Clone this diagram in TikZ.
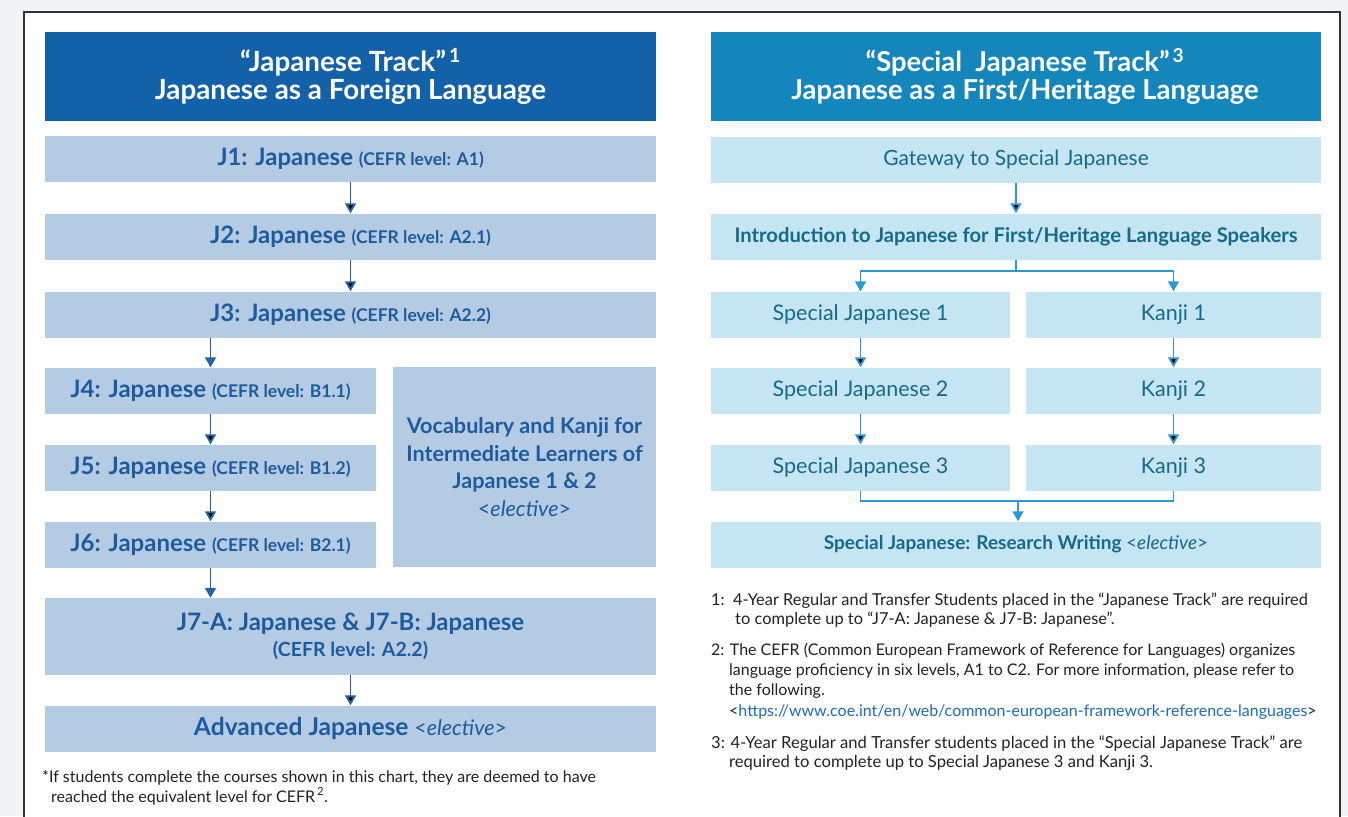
\documentclass[tikz,border=0pt]{standalone}
\usepackage{fontspec}
\setmainfont{Lato}
\usetikzlibrary{arrows.meta}

\definecolor{leftHead}{HTML}{1261A9}
\definecolor{leftBox}{HTML}{B5CBE3}
\definecolor{leftText}{HTML}{1C5C9E}
\definecolor{leftArrow}{HTML}{2462A6}
\definecolor{rightHead}{HTML}{1586BC}
\definecolor{rightBox}{HTML}{C6E5F2}
\definecolor{rightText}{HTML}{156A8B}
\definecolor{rightArrow}{HTML}{2B9AD0}
\definecolor{noteText}{HTML}{222222}
\definecolor{linkBlue}{HTML}{1F6DB8}
\definecolor{pageGray}{HTML}{F2F3F4}

\newcommand{\cefr}[1]{{\fontsize{17.5}{20}\selectfont (CEFR level: #1)}}
\newcommand{\elect}{{\mdseries <\textit{elective}>}}

\begin{document}
\begin{tikzpicture}[x=1pt, y=-1pt, every node/.style={inner sep=0pt}]
            \tikzstyle{headLeft} = [rectangle, fill=leftHead, text=white, minimum width=611pt,
                minimum height=89pt, align=center, font=\fontsize{27.8}{28}\selectfont\bfseries]
            \tikzstyle{headRight} = [headLeft, fill=rightHead, minimum width=610pt,
                font=\fontsize{27.4}{28}\selectfont\bfseries]
            \tikzstyle{boxLeft} = [rectangle, fill=leftBox, text=leftText, minimum width=611pt,
                minimum height=46pt, align=center, font=\fontsize{24}{26}\selectfont\bfseries]
            \tikzstyle{boxHalf} = [boxLeft, minimum width=331pt]
            \tikzstyle{boxRight} = [rectangle, fill=rightBox, text=rightText, minimum width=610pt,
                minimum height=46pt, align=center, font=\fontsize{21}{22}\selectfont]
            \tikzstyle{boxSJ} = [boxRight, minimum width=299pt, font=\fontsize{21.5}{24}\selectfont]
            \tikzstyle{boxKanji} = [boxSJ, minimum width=295pt]
            \tikzstyle{note} = [anchor=north west, align=left, text=noteText,
                font=\fontsize{16.4}{19}\selectfont]
            \tikzstyle{leftEdge} = [draw=leftArrow, line width=1.8pt, -{Triangle[length=10pt,width=11pt]}]
            \tikzstyle{rightEdge} = [draw=rightArrow, line width=1.8pt, -{Triangle[length=10pt,width=11pt]}]
            \tikzstyle{rightLine} = [draw=rightArrow, line width=1.8pt]
            % page and frame
            \useasboundingbox (0,0) rectangle (1348,816);
            \fill[pageGray] (0,0) rectangle (1348,816);
            \draw[fill=white, draw=black!80, line width=1.5pt] (24,12) rectangle (1340,840);
            % left track
            \node[headLeft] (hl) at (350.5,76.5) {“Japanese Track”\textsuperscript{\,1}\\Japanese as a Foreign Language};
            \node[boxLeft] (j1) at (350.5,159) {J1: Japanese \cefr{A1}};
            \node[boxLeft] (j2) at (350.5,236.5) {J2: Japanese \cefr{A2.1}};
            \node[boxLeft] (j3) at (350.5,314.5) {J3: Japanese \cefr{A2.2}};
            \node[boxHalf] (j4) at (210.5,390.5) {J4: Japanese \cefr{B1.1}};
            \node[boxHalf] (j5) at (210.5,467.5) {J5: Japanese \cefr{B1.2}};
            \node[boxHalf] (j6) at (210.5,544.5) {J6: Japanese \cefr{B2.1}};
            \node[boxLeft, minimum width=263pt, minimum height=200pt,
                font=\fontsize{21.6}{27.5}\selectfont\bfseries] (voc) at (524.5,467)
                {Vocabulary and Kanji for\\Intermediate Learners of\\Japanese 1 \& 2\\\elect};
            \node[boxLeft, minimum height=77pt] (j7) at (350.5,636.5)
                {J7-A: Japanese \& J7-B: Japanese\\[0pt]{\fontsize{19.5}{20}\selectfont (CEFR level: A2.2)}};
            \node[boxLeft] (adv) at (350.5,728.5)
                {{\fontsize{24.6}{26}\selectfont Advanced Japanese} {\fontsize{21.5}{22}\selectfont\elect}};
            \node[note, font=\fontsize{16}{20}\selectfont] (star) at (42,770)
                {*If students complete the courses shown in this chart, they are deemed to have\\
                \hspace*{9pt}reached the equivalent level for CEFR\textsuperscript{\,2}.};
            \foreach \from/\to in {j1/j2,j2/j3,j7/adv}
                \path[leftEdge] (\from) edge (\to);
            \path[leftEdge] (j4.north |- j3.south) -- (j4.north);
            \foreach \from/\to in {j4/j5,j5/j6}
                \path[leftEdge] (\from) edge (\to);
            \path[leftEdge] (j6.south) -- (j6.south |- j7.north);
            % right track
            \node[headRight] (hr) at (1016,76.5)
                {\hspace*{18pt}“Special\ \ Japanese Track”\textsuperscript{\,3}\\\hspace*{18pt}Japanese as a First/Heritage Language};
            \node[boxRight] (gate) at (1016,159.5) {Gateway to Special Japanese};
            \node[boxRight, font=\fontsize{20.2}{22}\selectfont\bfseries] (intro) at (1016,236.5)
                {Introduction to Japanese for First/Heritage Language Speakers};
            \node[boxSJ] (sj1) at (860.5,314.5) {Special Japanese 1};
            \node[boxSJ] (sj2) at (860.5,390.5) {Special Japanese 2};
            \node[boxSJ] (sj3) at (860.5,467.5) {Special Japanese 3};
            \node[boxKanji] (k1) at (1173.5,314.5) {Kanji 1};
            \node[boxKanji] (k2) at (1173.5,390.5) {Kanji 2};
            \node[boxKanji] (k3) at (1173.5,467.5) {Kanji 3};
            \node[boxRight, font=\fontsize{19}{22}\selectfont\bfseries] (rw) at (1016,544.5)
                {Special Japanese: Research Writing \elect};
            \coordinate (split) at (1016,271);
            \coordinate (merge) at (1018,501);
            \path[rightEdge] (gate) edge (intro);
            \draw[rightLine] (intro.south) -- (split);
            \path[rightEdge] (split) -| (sj1.north);
            \path[rightEdge] (split) -| (k1.north);
            \foreach \from/\to in {sj1/sj2,sj2/sj3,k1/k2,k2/k3}
                \path[rightEdge] (\from) edge (\to);
            \draw[rightLine] (sj3.south) |- (merge) -| (k3.south);
            \path[rightEdge] (merge) -- (merge |- rw.north);
            % notes
            \node[note] (n1) at (711,593)
                {1:\ \ 4-Year Regular and Transfer Students placed in the “Japanese Track” are required\\
                \hspace*{24pt}to complete up to “J7-A: Japanese \& J7-B: Japanese”.};
            \node[note, font=\fontsize{16}{20.3}\selectfont] (n2) at (711,642.5)
                {2: The CEFR (Common European Framework of Reference for Languages) organizes\\
                \hspace*{18pt}language proficiency in six levels, A1 to C2. For more information, please refer to\\
                \hspace*{18pt}the following.\\
                \hspace*{18pt}<\textcolor{linkBlue}{https://www.coe.int/en/web/common-european-framework-reference-languages}>};
            \node[note, font=\fontsize{16.6}{19}\selectfont] (n3) at (711,736)
                {3: 4-Year Regular and Transfer students placed in the “Special Japanese Track” are\\
                \hspace*{18pt}required to complete up to Special Japanese 3 and Kanji 3.};
        \end{tikzpicture}
\end{document}
